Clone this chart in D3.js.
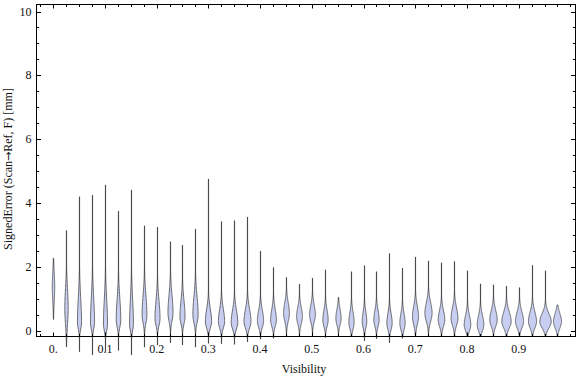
<!DOCTYPE html>
<html lang="en">
<head>
<meta charset="UTF-8" />
<title>Signed Error by Visibility</title>
<script src="https://d3js.org/d3.v7.min.js"></script>
<style>
  body {margin: 0; background: #fff;}
  svg {display: block; font-family: "Liberation Serif", "Times New Roman", serif;}
</style>
</head>
<body>
<script>
// ****DATA****
const visibility = [0, 0.025, 0.05, 0.075, 0.1, 0.125, 0.15, 0.175, 0.2, 0.225,
                    0.25, 0.275, 0.3, 0.325, 0.35, 0.375, 0.4, 0.425, 0.45, 0.475,
                    0.5, 0.525, 0.55, 0.575, 0.6, 0.625, 0.65, 0.675, 0.7, 0.725,
                    0.75, 0.775, 0.8, 0.825, 0.85, 0.875, 0.9, 0.925, 0.95, 0.975];

const maxError = [2.26, 3.13, 4.19, 4.24, 4.56, 3.74, 4.40, 3.28, 3.24, 2.78,
                  2.67, 3.18, 4.75, 3.41, 3.44, 3.55, 2.49, 1.97, 1.66, 1.45,
                  1.64, 1.90, 1.04, 1.84, 2.03, 1.84, 2.41, 1.95, 2.30, 2.18,
                  2.12, 2.16, 1.87, 1.46, 1.43, 1.39, 1.34, 2.04, 1.87, 0.80];

const minError = [0.35, -0.51, -0.66, -0.76, -0.66, -0.62, -0.76, -0.52, -0.45, -0.38,
                  -0.45, -0.52, -0.40, -0.41, -0.43, -0.35, -0.27, -0.24, -0.19, -0.19,
                  -0.19, -0.22, -0.19, -0.19, -0.32, -0.25, -0.38, -0.24, -0.19, -0.18,
                  -0.18, -0.18, -0.18, -0.18, -0.18, -0.17, -0.18, -0.18, -0.18, -0.18];

// value where each density is widest
const modeError = [1.37, 0.70, 0.25, 0.25, 0.20, 0.33, 0.20, 0.49, 0.38, 0.55,
                   0.43, 0.50, 0.28, 0.28, 0.25, 0.28, 0.30, 0.33, 0.54, 0.43,
                   0.49, 0.33, 0.38, 0.25, 0.28, 0.33, 0.23, 0.23, 0.43, 0.54,
                   0.33, 0.38, 0.17, 0.17, 0.33, 0.28, 0.28, 0.28, 0.28, 0.28];

// relative peak density (1 = widest violin)
const peakDensity = [0.20, 0.28, 0.34, 0.34, 0.34, 0.38, 0.32, 0.40, 0.42, 0.42,
                     0.42, 0.44, 0.52, 0.52, 0.55, 0.58, 0.52, 0.48, 0.48, 0.48,
                     0.48, 0.44, 0.44, 0.44, 0.38, 0.44, 0.44, 0.44, 0.50, 0.60,
                     0.55, 0.57, 0.55, 0.55, 0.62, 0.78, 0.67, 0.67, 0.95, 0.67];

// spread of the density above / below the mode
const spreadUp = [0.45, 0.60, 0.75, 0.75, 0.75, 0.65, 0.75, 0.60, 0.55, 0.55,
                  0.50, 0.55, 0.38, 0.38, 0.38, 0.38, 0.33, 0.33, 0.33, 0.30,
                  0.30, 0.30, 0.28, 0.32, 0.30, 0.30, 0.30, 0.30, 0.33, 0.33,
                  0.30, 0.33, 0.30, 0.30, 0.30, 0.30, 0.30, 0.30, 0.25, 0.25];

const spreadDown = [0.45, 0.50, 0.20, 0.20, 0.20, 0.22, 0.20, 0.25, 0.22, 0.25,
                    0.22, 0.25, 0.20, 0.20, 0.20, 0.20, 0.20, 0.20, 0.25, 0.22,
                    0.22, 0.20, 0.20, 0.20, 0.20, 0.20, 0.20, 0.20, 0.25, 0.25,
                    0.20, 0.22, 0.18, 0.18, 0.20, 0.20, 0.20, 0.20, 0.20, 0.20];

const xTickValues = [0, 0.1, 0.2, 0.3, 0.4, 0.5, 0.6, 0.7, 0.8, 0.9];
const xTickLabels = ["0.", "0.1", "0.2", "0.3", "0.4", "0.5", "0.6", "0.7", "0.8", "0.9"];
const xMinorTicks = [-0.025, 0, 0.025, 0.05, 0.075, 0.1, 0.125, 0.15, 0.175, 0.2, 0.225,
                     0.25, 0.275, 0.3, 0.325, 0.35, 0.375, 0.4, 0.425, 0.45, 0.475,
                     0.5, 0.525, 0.55, 0.575, 0.6, 0.625, 0.65, 0.675, 0.7, 0.725,
                     0.75, 0.775, 0.8, 0.825, 0.85, 0.875, 0.9, 0.925, 0.95, 0.975, 1.0];
const yTickValues = [0, 2, 4, 6, 8, 10];
const yMinorTicks = [0.5, 1, 1.5, 2.5, 3, 3.5, 4.5, 5, 5.5, 6.5, 7, 7.5, 8.5, 9, 9.5];

//****CREATE THE SVG CANVAS****
const width = 576;
const height = 377;
const frameLeft = 36.5, frameRight = 575.5, frameTop = 4.5, frameBottom = 336.5;

const svg = d3.select("body")
              .append("svg")
              .attr("width", width)
              .attr("height", height);

//****CREATE THE SCALES****
const xScale = d3.scaleLinear().domain([-0.0323, 1.0099]).range([frameLeft, frameRight]);
const yScale = d3.scaleLinear().domain([-0.188, 10.22]).range([frameBottom, frameTop]);
const widthScale = d3.scaleLinear().domain([0, 1]).range([0, 6]);

//****VIOLINS****
const violins = visibility.map((v, i) => ({
  x: v, min: minError[i], max: maxError[i], mode: modeError[i],
  peak: peakDensity[i], up: spreadUp[i], down: spreadDown[i]
}));

function profile(d) {
  const steps = 90;
  const vals = d3.range(steps + 1).map(k => d.min + (d.max - d.min) * k / steps);
  vals.push(d.mode);
  vals.sort((a, b) => a - b);
  return vals.map(v => {
    const s = v < d.mode ? d.down : d.up;
    const g = Math.exp(-0.5 * Math.pow((v - d.mode) / s, 2));
    return {v: v, hw: Math.max(0.1, widthScale(d.peak * g))};
  });
}

const centreX = d => Math.round(xScale(d.x)) + 0.5;

const area = d3.area()
               .y(p => yScale(p.v))
               .curve(d3.curveLinear);

const violinGroup = svg.append("g");

// the thin tail of every density shows as a dark line
violinGroup.selectAll("line")
   .data(violins)
   .join("line")
   .attr("x1", centreX).attr("x2", centreX)
   .attr("y1", d => yScale(d.min))
   .attr("y2", d => yScale(d.max))
   .attr("stroke", "#3a3a3a")
   .attr("stroke-width", 1);

violinGroup.selectAll("path")
   .data(violins)
   .join("path")
   .attr("d", d => {
     const cx = centreX(d);
     return area.x0(p => cx - p.hw).x1(p => cx + p.hw)(profile(d));
   })
   .attr("fill", "#c8cef2")
   .attr("stroke", "#4a4a4a")
   .attr("stroke-width", 0.8)
   .attr("stroke-linejoin", "round");

//****FRAME AND TICKS****
svg.append("rect")
   .attr("x", frameLeft).attr("y", frameTop)
   .attr("width", frameRight - frameLeft)
   .attr("height", frameBottom - frameTop)
   .attr("fill", "none")
   .attr("stroke", "#000")
   .attr("stroke-width", 1);

const ticks = svg.append("g").attr("stroke", "#000").attr("stroke-width", 1);

function vTicks(values, len) {
  values.forEach(v => {
    const x = Math.round(xScale(v)) + 0.5;
    ticks.append("line").attr("x1", x).attr("x2", x).attr("y1", frameBottom).attr("y2", frameBottom - len);
    ticks.append("line").attr("x1", x).attr("x2", x).attr("y1", frameTop).attr("y2", frameTop + len);
  });
}
function hTicks(values, len) {
  values.forEach(v => {
    const y = Math.round(yScale(v)) + 0.5;
    ticks.append("line").attr("y1", y).attr("y2", y).attr("x1", frameLeft).attr("x2", frameLeft + len);
    ticks.append("line").attr("y1", y).attr("y2", y).attr("x1", frameRight).attr("x2", frameRight - len);
  });
}
vTicks(xMinorTicks, 2.5);
vTicks(xTickValues, 4);
hTicks(yMinorTicks, 2.7);
hTicks(yTickValues, 4.5);

//****LABELS****
svg.append("g")
   .selectAll("text")
   .data(xTickValues)
   .join("text")
   .attr("x", d => xScale(d))
   .attr("y", 353)
   .attr("text-anchor", "middle")
   .attr("font-size", "12px")
   .attr("fill", "#111")
   .text((d, i) => xTickLabels[i]);

svg.append("g")
   .selectAll("text")
   .data(yTickValues)
   .join("text")
   .attr("x", 31.5)
   .attr("y", d => yScale(d) + 4)
   .attr("text-anchor", "end")
   .attr("font-size", "12px")
   .attr("fill", "#111")
   .text(d => d);

svg.append("text")
   .attr("x", 304)
   .attr("y", 373)
   .attr("text-anchor", "middle")
   .attr("font-size", "12px")
   .attr("fill", "#111")
   .text("Visibility");

const yLabel = svg.append("text")
   .attr("transform", "translate(12,169) rotate(-90)")
   .attr("text-anchor", "middle")
   .attr("font-size", "12px")
   .attr("fill", "#111");
yLabel.append("tspan").text("SignedError (Scan");
yLabel.append("tspan").attr("font-family", "DejaVu Sans").attr("font-size", "11px").text("\u2192");
yLabel.append("tspan").text("Ref, F) [mm]");
</script>
</body>
</html>
